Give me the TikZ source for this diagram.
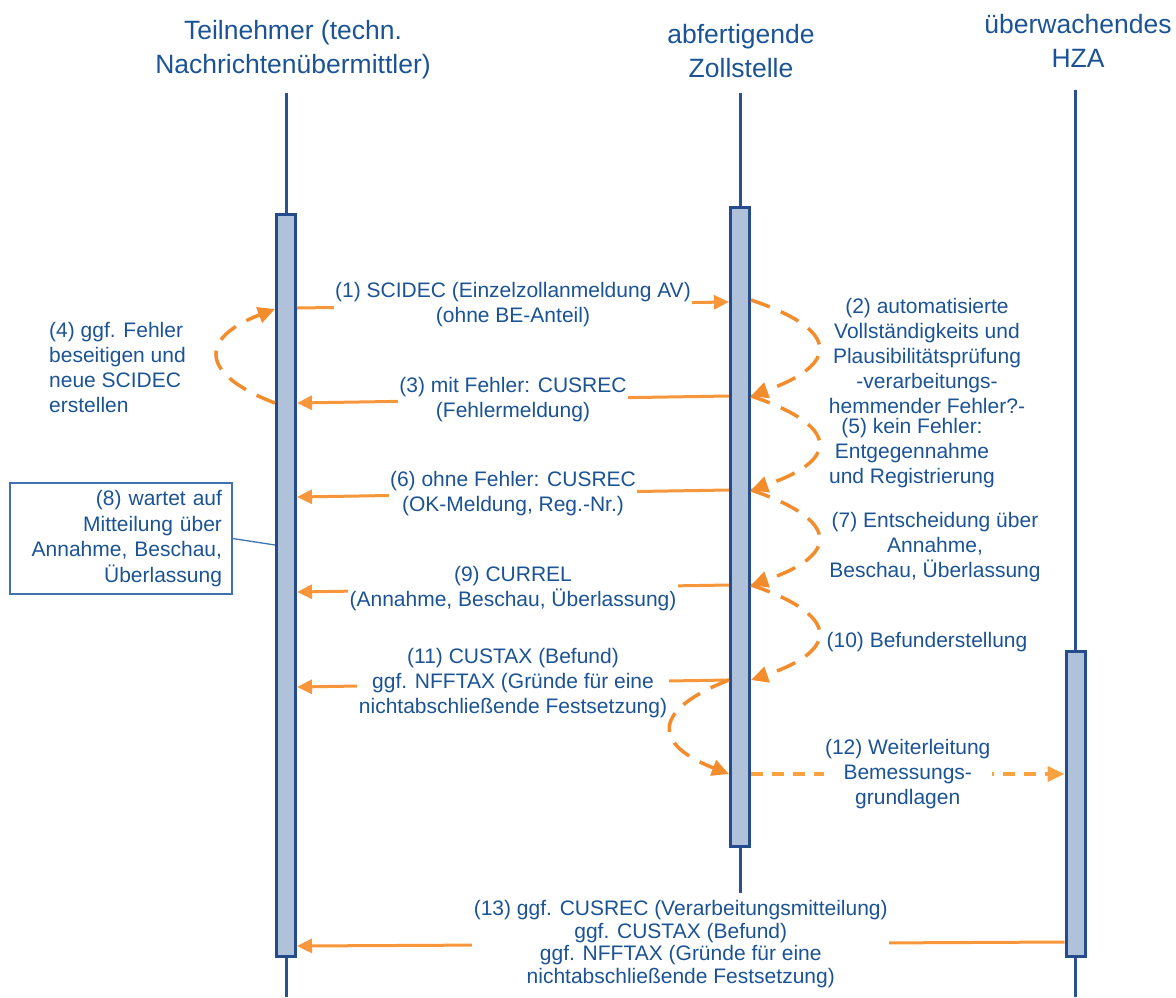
\documentclass[tikz,border=0pt]{standalone}
\usepackage{fontspec}
\setmainfont{Liberation Sans}
\usetikzlibrary{arrows.meta,calc}
\definecolor{txt}{HTML}{1B5394}
\definecolor{lifec}{HTML}{2A5290}
\definecolor{boxbd}{HTML}{244C8C}
\definecolor{actfill}{HTML}{AFC2DA}
\definecolor{org}{HTML}{F7963B}
\definecolor{orgd}{HTML}{F28C2C}
\definecolor{orgl}{HTML}{F9A23F}
\definecolor{notebd}{HTML}{3F73B0}
\begin{document}
\begin{tikzpicture}[x=1pt,y=-1pt,
  every node/.style={text=txt, font=\fontsize{21}{25}\selectfont, align=center},
  head/.style={font=\fontsize{26.5}{34}\selectfont},
  actbox/.style={draw=boxbd, line width=3pt, fill=actfill, minimum width=19pt, inner sep=0pt},
  lifeln/.style={draw=lifec, line width=3pt},
  msg/.style={draw=org, line width=3pt, -{Triangle[length=15pt,width=14pt]}},
  lbl/.style={fill=white, inner xsep=1.5pt, inner ysep=0pt},
  selfloop/.style={draw=orgd, line width=3.5pt, dash pattern=on 20pt off 12pt, -{Triangle[length=17pt,width=16pt]}},
  fwd/.style={draw=orgl, line width=4pt, dash pattern=on 12pt off 9pt, -{Triangle[length=17pt,width=15pt]}},
  notebox/.style={draw=notebd, line width=1.3pt, align=right, text width=202pt, inner xsep=10pt, minimum height=111pt, font=\fontsize{21}{25.7}\selectfont},
  plain/.style={inner sep=0pt}
]
\useasboundingbox (0,0) rectangle (1176,997);

% headers
\node[head] (h1) at (293,50) {Teilnehmer (techn.\\Nachrichtenübermittler)};
\node[head] (h2) at (741,51) {abfertigende\\Zollstelle};
\node[head] (h3) at (1078,41) {überwachendes\\HZA};

% activation boxes
\node[actbox, minimum height=742pt] (b1) at (286,585.5) {};
\node[actbox, minimum height=639pt] (b2) at (740,527) {};
\node[actbox, minimum height=305pt] (b3) at (1075.5,804) {};

% lifelines
\coordinate (t1) at (286,93);  \coordinate (u1) at (286,997);
\coordinate (t2) at (740,93);  \coordinate (u2) at (740,893);
\coordinate (t3) at (1075.5,90); \coordinate (u3) at (1075.5,997);
\draw[lifeln] (t1) -- (b1.north);
\draw[lifeln] (b1.south) -- (u1);
\draw[lifeln] (t2) -- (b2.north);
\draw[lifeln] (b2.south) -- (u2);
\draw[lifeln] (t3) -- (b3.north);
\draw[lifeln] (b3.south) -- (u3);

% messages
\draw[msg] (b1.east |- 0,308) -- node[lbl] {(1) SCIDEC (Einzelzollanmeldung AV)\\(ohne BE-Anteil)} (b2.west |- 0,302);
\draw[msg] (b2.west |- 0,396) -- node[lbl] {(3) mit Fehler: CUSREC\\(Fehlermeldung)} (b1.east |- 0,403);
\draw[msg] (b2.west |- 0,490) -- node[lbl] {(6) ohne Fehler: CUSREC\\(OK-Meldung, Reg.-Nr.)} (b1.east |- 0,497);
\draw[msg] (b2.west |- 0,585) -- node[lbl] {(9) CURREL\\(Annahme, Beschau, Überlassung)} (b1.east |- 0,592);
\draw[msg] (b2.west |- 0,680) -- node[lbl] {(11) CUSTAX (Befund)\\ggf. NFFTAX (Gründe für eine\\nichtabschließende Festsetzung)} (b1.east |- 0,687);
\draw[fwd] (b2.east |- 0,774) -- node[lbl] {(12) Weiterleitung\\Bemessungs-\\grundlagen} (b3.west |- 0,774);
\draw[msg] (b3.west |- 0,942) -- node[lbl, font=\fontsize{21}{22.6}\selectfont] {(13) ggf. CUSREC (Verarbeitungsmitteilung)\\ggf. CUSTAX (Befund)\\ggf. NFFTAX (Gründe für eine\\nichtabschließende Festsetzung)} (b1.east |- 0,946);

% self loops on Zollstelle
\draw[selfloop] (b2.east |- 0,300) .. controls (840,330) and (840,364) .. (b2.east |- 0,396);
\draw[selfloop] (b2.east |- 0,396) .. controls (840,426) and (840,460) .. (b2.east |- 0,490);
\draw[selfloop] (b2.east |- 0,490) .. controls (840,520) and (840,555) .. (b2.east |- 0,585);
\draw[selfloop] (b2.east |- 0,585) .. controls (840,615) and (840,650) .. (b2.east |- 0,680);
\draw[selfloop] (b2.west |- 0,680) .. controls (652,710) and (652,744) .. (b2.west |- 0,774);
% loop on Teilnehmer
\draw[selfloop] (b1.west |- 0,403) .. controls (199,374) and (199,338) .. (b1.west |- 0,309);

% side texts
\node[plain, anchor=west, align=left] (n4) at (49,367.5) {(4) ggf. Fehler\\beseitigen und\\neue SCIDEC\\erstellen};
\node[plain] (n2) at (927,356) {(2) automatisierte\\Vollständigkeits und\\Plausibilitätsprüfung\\-verarbeitungs-\\hemmender Fehler?-};
\node[plain] (n5) at (912,453) {(5) kein Fehler:\\Entgegennahme\\und Registrierung};
\node[plain] (n7) at (935,547) {(7) Entscheidung über\\Annahme,\\Beschau, Überlassung};
\node[plain] (n10) at (927,642) {(10) Befunderstellung};

% note
\node[notebox] (n8) at (121,538.5) {(8) wartet auf\\Mitteilung über\\Annahme, Beschau,\\Überlassung};
\draw[draw=notebd, line width=1.3pt] (n8.east) -- (b1.west |- 0,545);
\end{tikzpicture}
\end{document}
